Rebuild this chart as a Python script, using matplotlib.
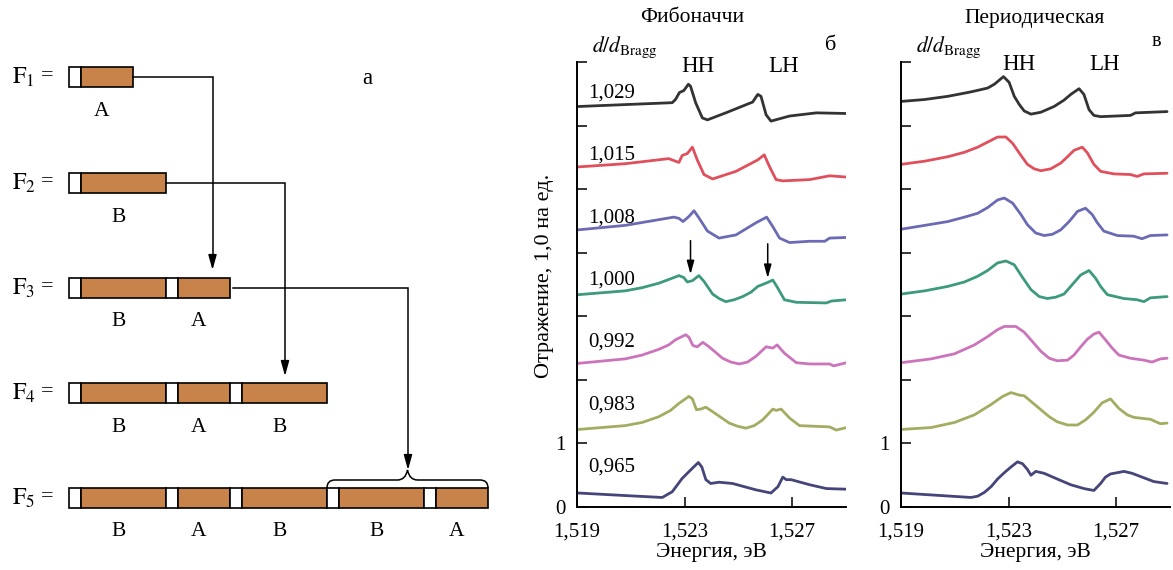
import matplotlib
matplotlib.use('Agg')
import matplotlib.pyplot as plt
from matplotlib.patches import Rectangle, FancyArrowPatch, PathPatch
from matplotlib.path import Path

plt.rcParams['font.family'] = ['Liberation Serif', 'DejaVu Serif']
plt.rcParams['mathtext.fontset'] = 'stix'

W, H = 1173, 570

# --- Fibonacci words F1..F5 ---
fib_words = ['A', 'B', 'BA', 'BAB', 'BABBA']

# --- Reflection spectra, Fibonacci structure (energy in eV, reflection offset by curve) ---
fib_1029_e = [1.51905, 1.52079, 1.52254, 1.52266, 1.52281, 1.52297, 1.52314, 1.52322, 1.52341, 1.52366,
              1.52385, 1.52453, 1.52553, 1.52572, 1.52584, 1.52603, 1.52621, 1.52690, 1.52790, 1.52902]
fib_1029_r = [6.30, 6.33, 6.36, 6.41, 6.52, 6.55, 6.65, 6.62, 6.36, 6.12,
              6.09, 6.20, 6.37, 6.49, 6.46, 6.17, 6.07, 6.15, 6.20, 6.19]
fib_1015_e = [1.51905, 1.52079, 1.52241, 1.52266, 1.52279, 1.52291, 1.52310, 1.52329, 1.52347, 1.52372,
              1.52404, 1.52491, 1.52572, 1.52596, 1.52615, 1.52640, 1.52665, 1.52765, 1.52839, 1.52902]
fib_1015_r = [5.35, 5.40, 5.48, 5.44, 5.42, 5.53, 5.56, 5.66, 5.46, 5.23,
              5.16, 5.28, 5.46, 5.54, 5.36, 5.15, 5.13, 5.15, 5.21, 5.19]
fib_1008_e = [1.51905, 1.52079, 1.52260, 1.52279, 1.52294, 1.52316, 1.52335, 1.52353, 1.52385, 1.52428,
              1.52491, 1.52565, 1.52605, 1.52628, 1.52653, 1.52690, 1.52765, 1.52821, 1.52839, 1.52902]
fib_1008_r = [4.36, 4.43, 4.56, 4.54, 4.49, 4.57, 4.66, 4.55, 4.34, 4.23,
              4.28, 4.47, 4.56, 4.41, 4.23, 4.16, 4.18, 4.18, 4.23, 4.24]
fib_1000_e = [1.51905, 1.52079, 1.52142, 1.52204, 1.52248, 1.52279, 1.52297, 1.52310, 1.52329, 1.52353,
              1.52372, 1.52404, 1.52428, 1.52453, 1.52484, 1.52516, 1.52547, 1.52572, 1.52596, 1.52613,
              1.52628, 1.52647, 1.52671, 1.52715, 1.52827, 1.52846, 1.52902]
fib_1000_r = [3.34, 3.40, 3.45, 3.52, 3.59, 3.64, 3.61, 3.54, 3.56, 3.64,
              3.55, 3.35, 3.28, 3.23, 3.26, 3.31, 3.38, 3.47, 3.51, 3.54,
              3.57, 3.44, 3.26, 3.22, 3.21, 3.24, 3.26]
fib_0992_e = [1.51905, 1.52079, 1.52142, 1.52204, 1.52241, 1.52266, 1.52304, 1.52316, 1.52331, 1.52347,
              1.52368, 1.52391, 1.52441, 1.52472, 1.52503, 1.52534, 1.52565, 1.52603, 1.52628, 1.52644,
              1.52671, 1.52715, 1.52765, 1.52839, 1.52854, 1.52902]
fib_0992_r = [2.26, 2.33, 2.39, 2.48, 2.55, 2.63, 2.71, 2.67, 2.54, 2.52,
              2.59, 2.52, 2.34, 2.28, 2.25, 2.28, 2.37, 2.52, 2.50, 2.55,
              2.42, 2.27, 2.25, 2.25, 2.22, 2.27]
fib_0983_e = [1.51905, 1.52079, 1.52142, 1.52204, 1.52248, 1.52279, 1.52316, 1.52329, 1.52344, 1.52360,
              1.52379, 1.52404, 1.52466, 1.52497, 1.52528, 1.52559, 1.52590, 1.52628, 1.52640, 1.52659,
              1.52690, 1.52727, 1.52839, 1.52864, 1.52902]
fib_0983_r = [1.22, 1.28, 1.33, 1.42, 1.52, 1.63, 1.74, 1.70, 1.53, 1.54,
              1.57, 1.50, 1.32, 1.27, 1.24, 1.28, 1.37, 1.54, 1.52, 1.54,
              1.40, 1.28, 1.26, 1.21, 1.25]
fib_0965_e = [1.51905, 1.52079, 1.52217, 1.52254, 1.52291, 1.52329, 1.52351, 1.52364, 1.52379, 1.52397, 1.52428,
              1.52478, 1.52565, 1.52621, 1.52647, 1.52665, 1.52678, 1.52696, 1.52765, 1.52827, 1.52902]
fib_0965_r = [0.22, 0.18, 0.15, 0.24, 0.45, 0.61, 0.70, 0.63, 0.43, 0.37, 0.39,
              0.37, 0.27, 0.22, 0.32, 0.47, 0.43, 0.43, 0.35, 0.29, 0.28]

# --- Reflection spectra, periodic structure ---
per_1029_e = [1.51901, 1.51988, 1.52074, 1.52160, 1.52222, 1.52247, 1.52281, 1.52302, 1.52321, 1.52340,
              1.52358, 1.52383, 1.52420, 1.52469, 1.52506, 1.52531, 1.52562, 1.52580, 1.52599, 1.52617,
              1.52642, 1.52753, 1.52772, 1.52889]
per_1029_r = [6.38, 6.41, 6.46, 6.53, 6.59, 6.65, 6.77, 6.68, 6.46, 6.33,
              6.23, 6.18, 6.21, 6.30, 6.40, 6.49, 6.58, 6.49, 6.25, 6.16,
              6.14, 6.16, 6.20, 6.22]
per_1015_e = [1.51901, 1.51988, 1.52074, 1.52136, 1.52185, 1.52222, 1.52259, 1.52290, 1.52315, 1.52346,
              1.52370, 1.52395, 1.52420, 1.52457, 1.52494, 1.52519, 1.52543, 1.52574, 1.52593, 1.52617,
              1.52642, 1.52691, 1.52753, 1.52778, 1.52803, 1.52889]
per_1015_r = [5.39, 5.44, 5.51, 5.58, 5.66, 5.74, 5.82, 5.82, 5.72, 5.53,
              5.39, 5.32, 5.29, 5.32, 5.41, 5.51, 5.61, 5.66, 5.57, 5.39,
              5.28, 5.24, 5.23, 5.20, 5.24, 5.25]
per_1008_e = [1.51901, 1.51988, 1.52074, 1.52136, 1.52185, 1.52222, 1.52259, 1.52284, 1.52315, 1.52346,
              1.52370, 1.52401, 1.52432, 1.52463, 1.52494, 1.52525, 1.52556, 1.52586, 1.52611, 1.52630,
              1.52654, 1.52704, 1.52765, 1.52796, 1.52827, 1.52889]
per_1008_r = [4.37, 4.43, 4.49, 4.56, 4.62, 4.71, 4.83, 4.86, 4.78, 4.60,
              4.44, 4.31, 4.27, 4.29, 4.36, 4.49, 4.65, 4.70, 4.60, 4.47,
              4.34, 4.27, 4.26, 4.22, 4.27, 4.28]
per_1000_e = [1.51901, 1.51988, 1.52074, 1.52136, 1.52185, 1.52222, 1.52259, 1.52290, 1.52321, 1.52352,
              1.52383, 1.52414, 1.52444, 1.52475, 1.52506, 1.52537, 1.52568, 1.52599, 1.52623, 1.52642,
              1.52667, 1.52728, 1.52778, 1.52803, 1.52827, 1.52889]
per_1000_r = [3.35, 3.40, 3.47, 3.54, 3.63, 3.72, 3.84, 3.87, 3.81, 3.61,
              3.42, 3.31, 3.28, 3.30, 3.35, 3.50, 3.65, 3.72, 3.60, 3.47,
              3.34, 3.28, 3.26, 3.23, 3.29, 3.31]
per_0992_e = [1.51901, 1.52012, 1.52099, 1.52173, 1.52222, 1.52259, 1.52284, 1.52327, 1.52358, 1.52389,
              1.52420, 1.52451, 1.52481, 1.52519, 1.52543, 1.52568, 1.52593, 1.52617, 1.52636, 1.52660,
              1.52685, 1.52710, 1.52753, 1.52803, 1.52833, 1.52864, 1.52889]
per_0992_r = [2.27, 2.33, 2.41, 2.55, 2.68, 2.79, 2.84, 2.84, 2.75, 2.60,
              2.45, 2.34, 2.30, 2.31, 2.39, 2.52, 2.64, 2.72, 2.75, 2.63,
              2.50, 2.39, 2.34, 2.31, 2.28, 2.33, 2.34]
per_0983_e = [1.51901, 1.52012, 1.52099, 1.52173, 1.52234, 1.52278, 1.52309, 1.52340, 1.52358, 1.52389,
              1.52420, 1.52451, 1.52481, 1.52519, 1.52556, 1.52586, 1.52617, 1.52648, 1.52679, 1.52710,
              1.52741, 1.52765, 1.52827, 1.52864, 1.52889]
per_0983_r = [1.22, 1.25, 1.33, 1.45, 1.61, 1.74, 1.80, 1.76, 1.75, 1.64,
              1.53, 1.42, 1.34, 1.29, 1.29, 1.37, 1.49, 1.64, 1.70, 1.55,
              1.45, 1.41, 1.38, 1.31, 1.32]
per_0965_e = [1.51901, 1.52012, 1.52160, 1.52185, 1.52210, 1.52235, 1.52259, 1.52284, 1.52309, 1.52333,
              1.52352, 1.52370, 1.52383, 1.52401, 1.52432, 1.52481, 1.52531, 1.52580, 1.52617, 1.52642,
              1.52660, 1.52679, 1.52729, 1.52759, 1.52790, 1.52840, 1.52889]
per_0965_r = [0.22, 0.19, 0.15, 0.17, 0.23, 0.32, 0.44, 0.54, 0.63, 0.71,
              0.68, 0.59, 0.50, 0.56, 0.53, 0.44, 0.35, 0.29, 0.26, 0.37,
              0.47, 0.52, 0.56, 0.53, 0.48, 0.40, 0.37]

d_ratio_labels = ['1,029', '1,015', '1,008', '1,000', '0,992', '0,983', '0,965']
label_base_y = [6.44, 5.46, 4.47, 3.50, 2.52, 1.54, 0.55]
curve_colors = ['#333333', '#e0505c', '#6b6bb5', '#3d9a7f', '#cc74bb', '#a4ac62', '#45457a']

fib_curves = [(fib_1029_e, fib_1029_r), (fib_1015_e, fib_1015_r), (fib_1008_e, fib_1008_r),
              (fib_1000_e, fib_1000_r), (fib_0992_e, fib_0992_r), (fib_0983_e, fib_0983_r),
              (fib_0965_e, fib_0965_r)]
per_curves = [(per_1029_e, per_1029_r), (per_1015_e, per_1015_r), (per_1008_e, per_1008_r),
              (per_1000_e, per_1000_r), (per_0992_e, per_0992_r), (per_0983_e, per_0983_r),
              (per_0965_e, per_0965_r)]

# arrows marking the split peaks on the d = d_Bragg curve
split_arrows = [(1.52322, 4.19, 3.66), (1.52609, 4.14, 3.60)]

fig = plt.figure(figsize=(W / 100, H / 100), dpi=100)

# ---------------- panel a: building the Fibonacci sequence ----------------
ax_a = fig.add_axes([0, 0, 500 / W, 1])
ax_a.set_xlim(0, 500)
ax_a.set_ylim(H, 0)
ax_a.axis('off')

seg_len = {'A': 64, 'B': 97}
cap_w = 11.7
box_h = 20
x_start = 69
row_y = [77, 183, 288, 393, 498]
orange = '#c8834a'

row_end = []
for i, word in enumerate(fib_words):
    yc = row_y[i]
    x = x_start
    for ch in word:
        L = seg_len[ch]
        ax_a.add_patch(Rectangle((x, yc - box_h / 2), cap_w, box_h, fc='white', ec='black', lw=1.2))
        ax_a.add_patch(Rectangle((x + cap_w, yc - box_h / 2), L - cap_w, box_h, fc=orange, ec='black', lw=1.2))
        ax_a.text(x + L / 2 + 1, yc + 34, ch, ha='center', va='center', fontsize=15.5)
        x += L
    row_end.append(x)
    ax_a.text(12, yc, r'$\mathrm{F}_{%d}$' % (i + 1), ha='left', va='center', fontsize=17.5)
    ax_a.text(41, yc - 1, '=', ha='left', va='center', fontsize=16)


def link(x0, y0, xc, y_tip):
    ax_a.plot([x0, xc, xc], [y0, y0, y_tip - 10], color='black', lw=1.1, solid_joinstyle='miter')
    ax_a.add_patch(FancyArrowPatch((xc, y_tip - 14), (xc, y_tip),
                                   arrowstyle='-|>,head_length=0.9,head_width=0.25',
                                   mutation_scale=10, color='black', lw=1.1,
                                   shrinkA=0, shrinkB=0))


link(row_end[0], row_y[0], 212.5, row_y[2] - box_h / 2 - 8)
link(row_end[1], row_y[1], 285, row_y[3] - box_h / 2 - 7)
link(row_end[2] + 3, row_y[2], 408, row_y[4] - box_h / 2 - 18)

# brace over the last F3 block of F5
bx0 = x_start + seg_len['B'] * 2 + seg_len['A']
bx1 = row_end[4]
bxm = (bx0 + bx1) / 2
ytop = row_y[4] - box_h / 2
verts = [(bx0, ytop), (bx0, ytop - 8), (bx0 + 8, ytop - 8),
         (bxm - 10, ytop - 8), (bxm - 2, ytop - 8), (bxm, ytop - 18),
         (bxm + 2, ytop - 8), (bxm + 10, ytop - 8),
         (bx1 - 8, ytop - 8), (bx1, ytop - 8), (bx1, ytop)]
codes = [Path.MOVETO, Path.CURVE3, Path.CURVE3,
         Path.LINETO, Path.CURVE3, Path.CURVE3,
         Path.CURVE3, Path.CURVE3,
         Path.LINETO, Path.CURVE3, Path.CURVE3]
ax_a.add_patch(PathPatch(Path(verts, codes), fc='none', ec='black', lw=1.1))
ax_a.text(367, 79, 'а', ha='center', va='center', fontsize=16.5)


# ---------------- panels б and в: reflection spectra ----------------
def spectra_axes(rect, curves):
    ax = fig.add_axes(rect)
    ax.set_xlim(1.519, 1.529)
    ax.set_ylim(0, 7)
    for s in ('top', 'right'):
        ax.spines[s].set_visible(False)
    for s in ('left', 'bottom'):
        ax.spines[s].set_linewidth(1.4)
    ax.set_xticks([1.519, 1.523, 1.527])
    ax.set_xticklabels(['1,519', '1,523', '1,527'])
    ax.set_yticks(range(8))
    ax.set_yticklabels(['0', '1', '', '', '', '', '', ''])
    ax.tick_params(axis='both', direction='in', length=7.5, width=1.1, labelsize=15)
    ax.tick_params(axis='x', pad=11)
    ax.tick_params(axis='y', pad=8)
    for (e, r), c in zip(curves, curve_colors):
        ax.plot(e, r, color=c, lw=2.0, solid_joinstyle='round', solid_capstyle='round')
    ax.set_xlabel('Энергия, эВ', fontsize=15.5)
    ax.xaxis.set_label_coords(0.5, -0.082)
    ax.text(1.51955, 7.15, r'$d/d_{\mathrm{Bragg}}$', fontsize=15.5, ha='left', va='baseline')
    return ax


ax_b = spectra_axes([577 / W, 63 / H, 269 / W, 445 / H], fib_curves)
ax_v = spectra_axes([901 / W, 63 / H, 269 / W, 445 / H], per_curves)

for lab, yb in zip(d_ratio_labels, label_base_y):
    ax_b.text(1.51942, yb, lab, fontsize=15, ha='left', va='baseline')

for xa, y0, y1 in split_arrows:
    ax_b.annotate('', xy=(xa, y1), xytext=(xa, y0),
                  arrowprops=dict(arrowstyle='-|>,head_length=0.8,head_width=0.22',
                                  mutation_scale=10, color='black', lw=1.1,
                                  shrinkA=0, shrinkB=0))

ax_b.text(1.52349, 6.85, 'HH', fontsize=16.5, ha='center', va='baseline')
ax_b.text(1.52668, 6.85, 'LH', fontsize=16.5, ha='center', va='baseline')
ax_v.text(1.52337, 6.87, 'HH', fontsize=16.5, ha='center', va='baseline')
ax_v.text(1.52656, 6.87, 'LH', fontsize=16.5, ha='center', va='baseline')

ax_b.set_ylabel('Отражение, 1,0 на ед.', fontsize=16)
ax_b.yaxis.set_label_coords(-0.085, 0.52)

fig.text(692 / W, 1 - 18 / H, 'Фибоначчи', fontsize=15.5, ha='center', va='center')
fig.text(1035 / W, 1 - 18 / H, 'Периодическая', fontsize=15.5, ha='center', va='center')
fig.text(831 / W, 1 - 46 / H, 'б', fontsize=16, ha='center', va='center')
fig.text(1156 / W, 1 - 42 / H, 'в', fontsize=14.5, ha='center', va='center')

fig.savefig('out.png', dpi=100)
